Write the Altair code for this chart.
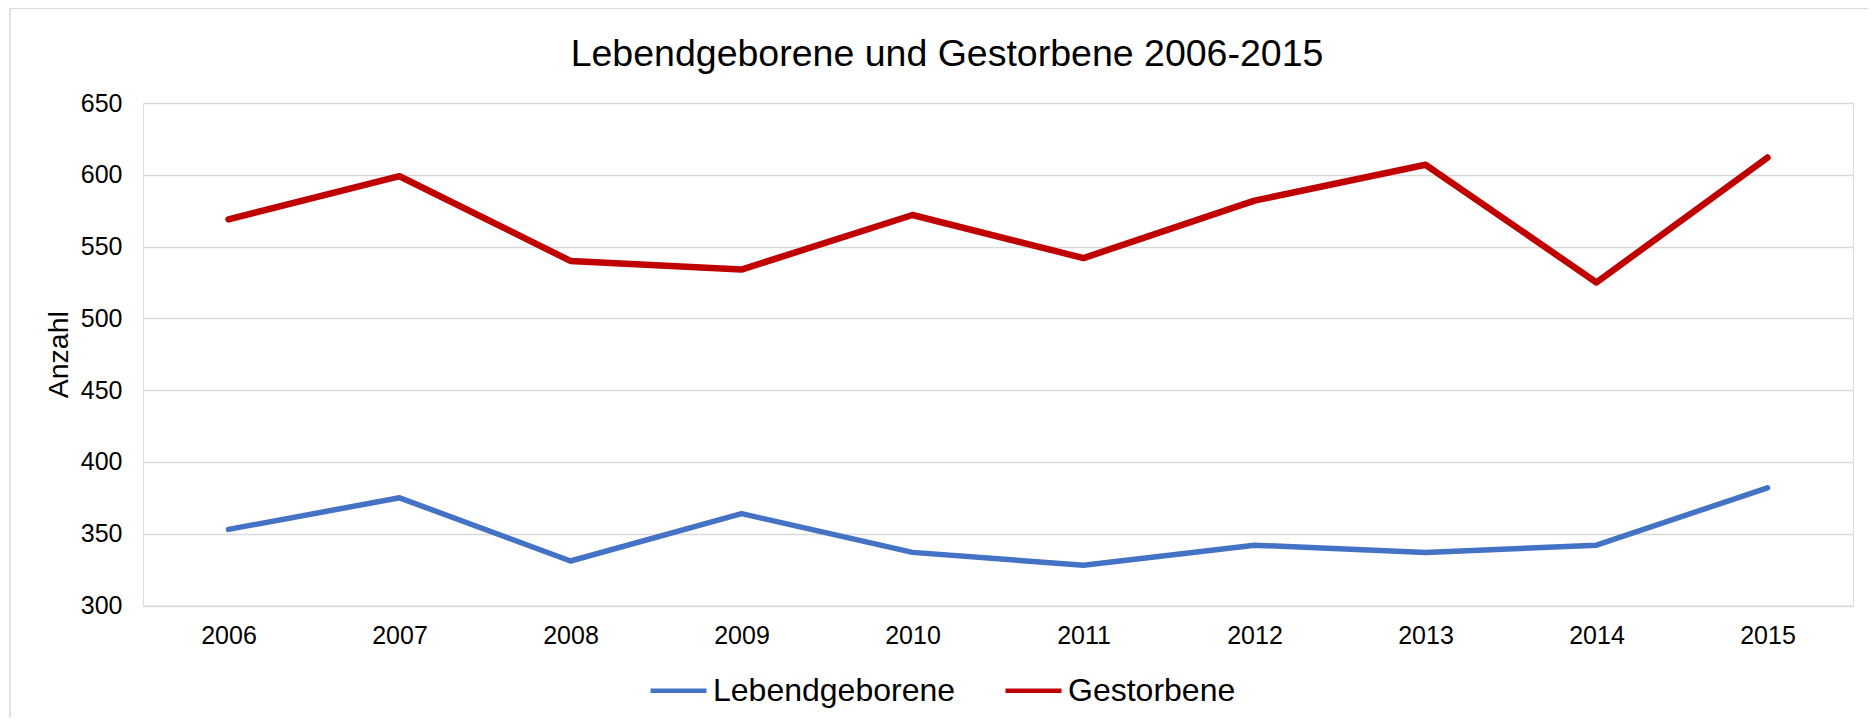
import altair as alt
import pandas as pd

# ---- data ----
years = ["2006", "2007", "2008", "2009", "2010", "2011", "2012", "2013", "2014", "2015"]
lebendgeborene = [353, 375, 331, 364, 337, 328, 342, 337, 342, 382]
gestorbene = [569, 599, 540, 534, 572, 542, 582, 607, 525, 612]
series = ["Lebendgeborene", "Gestorbene"]
colors = ["#4472C4", "#C00000"]
widths = [5.5, 6.5]
y_ticks = [300, 350, 400, 450, 500, 550, 600, 650]
title_text = "Lebendgeborene und Gestorbene 2006-2015"
y_title = "Anzahl"

df = pd.DataFrame({
    "Jahr": years + years,
    "Anzahl": lebendgeborene + gestorbene,
    "Reihe": [series[0]] * len(years) + [series[1]] * len(years),
    "Breite": [widths[0]] * len(years) + [widths[1]] * len(years),
})

FONT = "Liberation Sans"
PL, PT = 143, 103          # plot origin in page px
W, H = 1710, 502.5         # plot size
TOTAL_W, TOTAL_H = 1860, 710
GRID = "#d9d9d9"

lines = alt.Chart(df).mark_line(strokeCap="round", strokeJoin="round").encode(
    x=alt.X("Jahr:O", sort=years,
            scale=alt.Scale(type="point", padding=0.5),
            axis=alt.Axis(title=None, labelAngle=0, labelFontSize=25, labelFont=FONT,
                          labelColor="black", labelPadding=18, ticks=False, domain=False,
                          grid=False)),
    y=alt.Y("Anzahl:Q",
            scale=alt.Scale(domain=[300, 650], nice=False, zero=False),
            axis=alt.Axis(values=y_ticks, title=y_title, titleFont=FONT, titleFontSize=28.5,
                          titleFontWeight="normal", titleColor="black",
                          titleAngle=-90, titleX=58 - PL, titleY=H / 2,
                          titleAlign="center", titleBaseline="middle",
                          labelFontSize=25, labelFont=FONT, labelColor="black",
                          labelPadding=21, ticks=False, domain=False,
                          grid=True, gridColor=GRID, gridWidth=1.5)),
    color=alt.Color("Reihe:N", sort=series,
                    scale=alt.Scale(domain=series, range=colors),
                    legend=alt.Legend(orient="none", legendX=505, legendY=557,
                                      direction="horizontal", title=None,
                                      symbolType="stroke", symbolSize=3136,
                                      symbolStrokeWidth=4.5, labelLimit=0,
                                      labelFontSize=32, labelFont=FONT, labelColor="black",
                                      labelOffset=4, columnPadding=40, padding=0)),
    strokeWidth=alt.StrokeWidth("Breite:Q", scale=None, legend=None),
)

one = pd.DataFrame({"k": [0]})
border_left = alt.Chart(one).mark_rule(color=GRID, strokeWidth=1.5).encode(
    x=alt.value(10 - PL), y=alt.value(8 - PT), y2=alt.value(TOTAL_H))
border_top = alt.Chart(one).mark_rule(color=GRID, strokeWidth=2).encode(
    x=alt.value(10 - PL), x2=alt.value(TOTAL_W), y=alt.value(8 - PT))
title = alt.Chart(one).mark_text(text=title_text, font=FONT, fontSize=37.5, color="black",
                                 align="center", baseline="alphabetic").encode(
    x=alt.value(947 - PL), y=alt.value(66 - PT))

chart = alt.layer(border_left, border_top, title, lines).properties(
    width=W, height=H,
    padding={"left": PL - 8, "top": PT - 8, "right": TOTAL_W - (PL - 8) - W,
             "bottom": TOTAL_H - (PT - 8) - H},
    autosize=alt.AutoSizeParams(type="none"),
).configure_view(strokeWidth=0).configure(background="white")

chart.save("out.html", embed_options={"renderer": "svg", "actions": False})
